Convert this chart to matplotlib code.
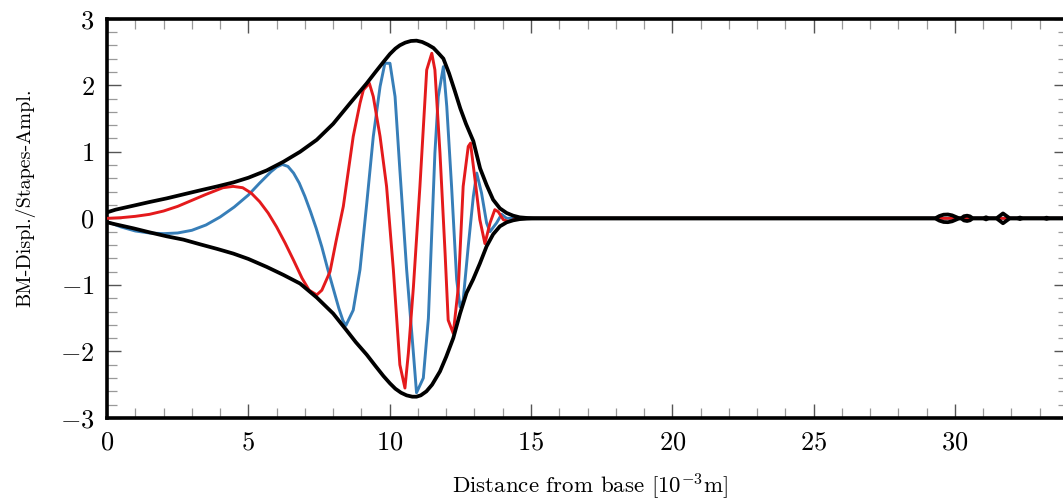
import numpy as np
import matplotlib
matplotlib.use("Agg")
import matplotlib.pyplot as plt

plt.rcParams["font.family"] = "serif"
plt.rcParams["font.serif"] = ["cmr10", "DejaVu Serif"]
plt.rcParams["mathtext.fontset"] = "cm"
plt.rcParams["axes.formatter.use_mathtext"] = True

# upper envelope (black)
up_x = [0, 0.3, 0.93, 1.5, 2.11, 2.7, 3.29, 3.9, 4.47, 5.0, 5.65, 6.24, 6.83, 7.42, 8.0,
        8.6, 9.19, 9.5, 9.78, 10.01, 10.2, 10.36, 10.55, 10.75, 10.95, 11.15, 11.35, 11.55,
        11.75, 11.9, 12.1, 12.3, 12.5, 12.7, 12.96, 13.2, 13.43, 13.66, 13.9, 14.14, 14.37,
        14.6, 14.85, 15.1, 15.5, 20, 25, 29.3, 29.45, 29.6, 29.75, 29.9, 30.05, 30.15,
        30.22, 30.32, 30.43, 30.53, 30.63, 31.0, 31.1, 31.2, 31.47, 31.7, 31.94, 32.2,
        32.3, 32.4, 33.15, 33.24, 33.35, 34]
up_y = [0.09, 0.13, 0.19, 0.245, 0.30, 0.36, 0.42, 0.48, 0.54, 0.61, 0.72, 0.85, 1.00,
        1.18, 1.42, 1.73, 2.03, 2.20, 2.35, 2.47, 2.55, 2.60, 2.64, 2.665, 2.67, 2.65,
        2.61, 2.56, 2.47, 2.40, 2.18, 1.92, 1.65, 1.42, 1.16, 0.75, 0.50, 0.28, 0.15,
        0.08, 0.04, 0.015, 0.006, 0.002, 0, 0, 0, 0, 0.035, 0.055, 0.058, 0.045, 0.018,
        0, 0, 0.032, 0.04, 0.03, 0, 0, 0.016, 0, 0, 0.074, 0, 0, 0.012, 0, 0, 0.01, 0, 0]

# lower envelope (black)
lo_x = [0, 0.3, 0.93, 1.5, 2.11, 2.7, 3.29, 3.9, 4.47, 5.0, 5.65, 6.24, 6.83, 7.42, 8.0,
        8.45, 8.8, 9.19, 9.5, 9.78, 10.01, 10.2, 10.4, 10.6, 10.8, 10.95, 11.1, 11.3, 11.5,
        11.78, 12.0, 12.25, 12.49, 12.72, 12.95, 13.19, 13.43, 13.66, 13.9, 14.14, 14.37,
        14.6, 14.85, 15.1, 15.5, 20, 25, 29.3, 29.45, 29.6, 29.75, 29.9, 30.05, 30.15,
        30.22, 30.32, 30.43, 30.53, 30.63, 31.0, 31.1, 31.2, 31.47, 31.7, 31.94, 32.2,
        32.3, 32.4, 33.15, 33.24, 33.35, 34]
lo_y = [-0.06, -0.09, -0.15, -0.21, -0.27, -0.32, -0.39, -0.46, -0.53, -0.61, -0.73,
        -0.85, -0.98, -1.19, -1.43, -1.67, -1.86, -2.05, -2.22, -2.37, -2.48, -2.56,
        -2.62, -2.66, -2.68, -2.68, -2.66, -2.60, -2.50, -2.30, -2.08, -1.80, -1.43,
        -1.12, -0.92, -0.68, -0.42, -0.24, -0.12, -0.06, -0.03, -0.012, -0.005, -0.002,
        0, 0, 0, 0, -0.035, -0.055, -0.058, -0.045, -0.018, 0, 0, -0.032, -0.04, -0.03,
        0, 0, -0.016, 0, 0, -0.074, 0, 0, -0.012, 0, 0, -0.01, 0, 0]

# blue curve
blue_x = [0, 0.5, 1.0, 1.5, 2.0, 2.5, 3.0, 3.5, 4.0, 4.5, 5.0, 5.4, 5.8, 6.0, 6.2, 6.4,
          6.6, 6.8, 7.0, 7.2, 7.4, 7.6, 7.8, 8.0, 8.2, 8.35, 8.45, 8.71, 8.95, 9.19, 9.42,
          9.66, 9.83, 10.01, 10.19, 10.36, 10.6, 10.84, 10.95, 11.19, 11.37, 11.6, 11.72,
          11.9, 12.02, 12.19, 12.37, 12.49, 12.6, 12.78, 12.96, 13.08, 13.25, 13.43, 13.55,
          13.78, 13.96, 14.14, 14.5, 34]
blue_y = [-0.05, -0.13, -0.19, -0.22, -0.23, -0.22, -0.18, -0.10, 0.02, 0.17, 0.35, 0.53,
          0.70, 0.77, 0.81, 0.78, 0.68, 0.53, 0.33, 0.10, -0.15, -0.43, -0.75, -1.05,
          -1.35, -1.54, -1.61, -1.38, -0.77, 0.23, 1.23, 1.98, 2.33, 2.33, 1.83, 0.73,
          -0.77, -2.03, -2.62, -2.40, -1.50, 0.98, 1.83, 2.28, 1.68, 0.48, -0.92, -1.33,
          -1.23, -0.42, 0.33, 0.68, 0.38, -0.07, -0.20, -0.07, 0.06, 0.0, 0.0, 0.0]

# red curve
red_x = [0, 0.5, 1.0, 1.5, 2.0, 2.5, 3.0, 3.5, 3.8, 4.1, 4.46, 4.8, 5.1, 5.4, 5.7, 6.0,
         6.3, 6.6, 6.9, 7.15, 7.42, 7.6, 7.89, 8.1, 8.36, 8.71, 8.95, 9.07, 9.28, 9.42,
         9.66, 9.89, 10.13, 10.36, 10.54, 10.66, 10.84, 11.07, 11.31, 11.49, 11.6, 11.78,
         11.96, 12.07, 12.25, 12.43, 12.6, 12.78, 12.86, 13.02, 13.19, 13.37, 13.55, 13.72,
         13.84, 14.02, 14.2, 14.5, 34]
red_y = [0.0, 0.01, 0.03, 0.06, 0.11, 0.18, 0.27, 0.36, 0.41, 0.46, 0.48, 0.46, 0.38,
         0.25, 0.08, -0.13, -0.37, -0.63, -0.90, -1.08, -1.15, -1.08, -0.80, -0.35, 0.18,
         1.23, 1.73, 1.93, 2.03, 1.83, 1.23, 0.48, -0.77, -2.20, -2.55, -2.03, -1.03,
         0.48, 2.23, 2.48, 2.23, 0.98, -0.52, -1.53, -1.73, -1.03, 0.48, 1.08, 1.13, 0.58,
         -0.02, -0.38, -0.07, 0.13, 0.10, -0.02, -0.05, 0.0, 0.0]

fig = plt.figure(figsize=(10.63, 5.01), dpi=100)
ax = fig.add_axes([0.1007, 0.1657, 0.904, 0.797])

ax.plot(blue_x, blue_y, color="#377eb8", lw=2.1, zorder=2)
ax.plot(red_x, red_y, color="#e41a1c", lw=2.1, zorder=3)
ax.plot(up_x, up_y, color="black", lw=2.7, zorder=4)
ax.plot(lo_x, lo_y, color="black", lw=2.7, zorder=4)

ax.set_xlim(0, 34)
ax.set_ylim(-3, 3)
ax.set_xticks([0, 5, 10, 15, 20, 25, 30])
ax.set_yticks([-3, -2, -1, 0, 1, 2, 3])
ax.set_xticks(np.arange(0, 35, 1), minor=True)
ax.set_yticks(np.arange(-3, 3.01, 0.2), minor=True)

ax.tick_params(which="both", direction="in", top=True, right=True, labelsize=19, pad=9)
ax.tick_params(which="major", length=10, width=1.0, color="#555555")
ax.tick_params(which="minor", length=7, width=0.9, color="#999999")

for s in ax.spines.values():
    s.set_linewidth(2.6)

ax.set_xlabel(r"Distance from base [$10^{-3}$m]", fontsize=16.5)
ax.set_ylabel("BM-Displ./Stapes-Ampl.", fontsize=14.5)
ax.xaxis.label.set_va("baseline")
ax.xaxis.set_label_coords(0.5026, -0.19)
ax.yaxis.set_label_coords(-0.075, 0.551)

fig.savefig("out.png", dpi=100)
